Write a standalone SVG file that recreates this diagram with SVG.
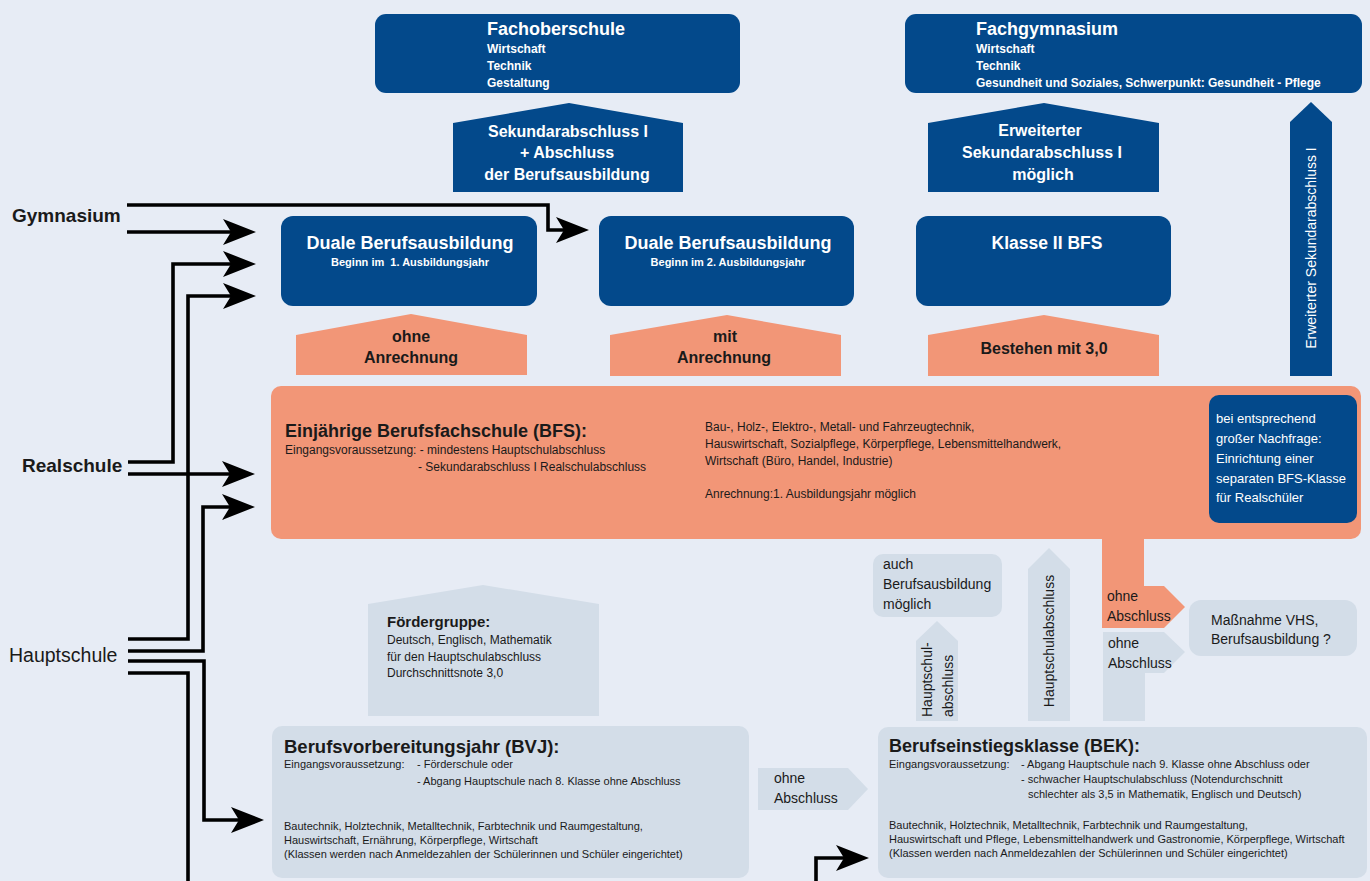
<svg xmlns="http://www.w3.org/2000/svg" width="1370" height="881" viewBox="0 0 1370 881">
<defs>
<style>
.t{font-family:"Liberation Sans",Arial,sans-serif}
.b{font-weight:bold}
.w{fill:#ffffff}
.k{fill:#1a1a1a}
.blue{fill:#03498b}
.sal{fill:#f29677}
.gray{fill:#d3dde8}
.c{text-anchor:middle}
.con{fill:none;stroke:#000;stroke-width:3.6;stroke-linejoin:miter}
</style>
<marker id="ah" markerUnits="userSpaceOnUse" markerWidth="34" markerHeight="27" viewBox="0 0 34 27" refX="8" refY="13" orient="auto">
<path d="M0,0 L33,13 L0,26 L8,13 Z" fill="#000"/>
</marker>
</defs>
<rect x="0" y="0" width="1370" height="881" fill="#e7ecf5"/>

<g id="fachoberschule">
<rect class="blue" x="375" y="14" width="365" height="79" rx="11"/>
<text class="t b w" x="487" y="35" font-size="18">Fachoberschule</text>
<text class="t b w" x="487" y="53" font-size="12">Wirtschaft</text>
<text class="t b w" x="487" y="70" font-size="12">Technik</text>
<text class="t b w" x="487" y="87" font-size="12">Gestaltung</text>
</g>

<g id="sekundar-abschluss">
<polygon class="blue" points="453,192 453,123 569,103 683,123 683,192"/>
<text class="t b w c" x="568" y="137" font-size="16">Sekundarabschluss I</text>
<text class="t b w c" x="567" y="158" font-size="16">+ Abschluss</text>
<text class="t b w c" x="567" y="180" font-size="16">der Berufsausbildung</text>
</g>

<g id="fachgymnasium">
<rect class="blue" x="905" y="14" width="457" height="79" rx="11"/>
<text class="t b w" x="976" y="35" font-size="18">Fachgymnasium</text>
<text class="t b w" x="976" y="53" font-size="12">Wirtschaft</text>
<text class="t b w" x="976" y="70" font-size="12">Technik</text>
<text class="t b w" x="976" y="87" font-size="12">Gesundheit und Soziales, Schwerpunkt: Gesundheit - Pflege</text>
</g>

<g id="erweiterter">
<polygon class="blue" points="928,192 928,123 1044,103 1159,123 1159,192"/>
<text class="t b w c" x="1040" y="136" font-size="16">Erweiterter</text>
<text class="t b w c" x="1042" y="158" font-size="16">Sekundarabschluss I</text>
<text class="t b w c" x="1043" y="180" font-size="16">möglich</text>
</g>

<g id="erweiterter-vertikal">
<polygon class="blue" points="1290,376 1290,122 1311,102 1332,122 1332,376"/>
<text class="t w c" x="1316" y="248" font-size="14" transform="rotate(-90 1316 248)">Erweiterter Sekundarabschluss I</text>
</g>

<g id="duale1">
<rect class="blue" x="281" y="216" width="256" height="90" rx="12"/>
<text class="t b w c" x="410" y="249" font-size="18">Duale Berufsausbildung</text>
<text class="t b w c" x="410" y="266" font-size="11" xml:space="preserve">Beginn im  1. Ausbildungsjahr</text>
</g>

<g id="duale2">
<rect class="blue" x="599" y="216" width="255" height="90" rx="12"/>
<text class="t b w c" x="728" y="249" font-size="18">Duale Berufsausbildung</text>
<text class="t b w c" x="728" y="266" font-size="11">Beginn im 2. Ausbildungsjahr</text>
</g>

<g id="klasse2">
<rect class="blue" x="916" y="216" width="255" height="90" rx="12"/>
<text class="t b w c" x="1047" y="249" font-size="17.5">Klasse II BFS</text>
</g>

<g id="ohne-anrechnung">
<polygon class="sal" points="296,375 296,335 411,314 527,335 527,375"/>
<text class="t b k c" x="411" y="342" font-size="16">ohne</text>
<text class="t b k c" x="411" y="363" font-size="16">Anrechnung</text>
</g>

<g id="mit-anrechnung">
<polygon class="sal" points="610,376 610,335 727,315 841,335 841,376"/>
<text class="t b k c" x="725" y="342" font-size="16">mit</text>
<text class="t b k c" x="724" y="363" font-size="16">Anrechnung</text>
</g>

<g id="bestehen">
<polygon class="sal" points="928,376 928,335 1044,315 1159,335 1159,376"/>
<text class="t b k c" x="1044" y="354" font-size="16">Bestehen mit 3,0</text>
</g>

<g id="bfs">
<rect class="sal" x="271" y="386" width="1090" height="153" rx="10"/>
<text class="t b k" x="285" y="437" font-size="18">Einjährige Berufsfachschule (BFS):</text>
<text class="t k" x="285" y="454" font-size="12">Eingangsvoraussetzung: - mindestens Hauptschulabschluss</text>
<text class="t k" x="418" y="471" font-size="12">- Sekundarabschluss I Realschulabschluss</text>
<text class="t k" x="705" y="431" font-size="12">Bau-, Holz-, Elektro-, Metall- und Fahrzeugtechnik,</text>
<text class="t k" x="705" y="448" font-size="12">Hauswirtschaft, Sozialpflege, Körperpflege, Lebensmittelhandwerk,</text>
<text class="t k" x="705" y="465" font-size="12">Wirtschaft (Büro, Handel, Industrie)</text>
<text class="t k" x="705" y="498" font-size="12">Anrechnung:1. Ausbildungsjahr möglich</text>
</g>

<g id="bfs-realschueler">
<rect class="blue" x="1209" y="395" width="148" height="128" rx="10"/>
<text class="t w" x="1216" y="423" font-size="13">bei entsprechend</text>
<text class="t w" x="1216" y="443" font-size="13">großer Nachfrage:</text>
<text class="t w" x="1216" y="463" font-size="13">Einrichtung einer</text>
<text class="t w" x="1216" y="483" font-size="13">separaten BFS-Klasse</text>
<text class="t w" x="1216" y="502" font-size="13">für Realschüler</text>
</g>

<g id="auch-berufsausbildung">
<rect class="gray" x="873" y="554" width="129" height="63" rx="10"/>
<text class="t k" x="883" y="569" font-size="14">auch</text>
<text class="t k" x="883" y="589" font-size="14">Berufsausbildung</text>
<text class="t k" x="883" y="609" font-size="14">möglich</text>
</g>

<g id="hauptschul-abschluss-klein">
<polygon class="gray" points="916,721 916,641 937,621 958,641 958,721"/>
<text class="t k" x="932" y="717" font-size="14" transform="rotate(-90 932 717)">Hauptschul-</text>
<text class="t k" x="953" y="717" font-size="14" transform="rotate(-90 953 717)">abschluss</text>
</g>

<g id="hauptschulabschluss">
<polygon class="gray" points="1028,721 1028,569 1049,548 1070,569 1070,721"/>
<text class="t k c" x="1054" y="641" font-size="14" transform="rotate(-90 1054 641)">Hauptschulabschluss</text>
</g>

<g id="ohne-abschluss-bfs">
<polygon class="sal" points="1102,539 1144,539 1144,586 1164,586 1185,607 1164,628 1102,628"/>
<text class="t k" x="1107" y="601" font-size="14">ohne</text>
<text class="t k" x="1107" y="621" font-size="14">Abschluss</text>
</g>

<g id="ohne-abschluss-bek">
<polygon class="gray" points="1103,632 1164,632 1185,652 1164,673 1145,673 1145,721 1103,721"/>
<text class="t k" x="1108" y="648" font-size="14">ohne</text>
<text class="t k" x="1108" y="668" font-size="14">Abschluss</text>
</g>

<g id="massnahme">
<rect class="gray" x="1189" y="600" width="168" height="56" rx="12"/>
<text class="t k" x="1211" y="625" font-size="14">Maßnahme VHS,</text>
<text class="t k" x="1211" y="644" font-size="14">Berufsausbildung ?</text>
</g>

<g id="foerdergruppe">
<polygon class="gray" points="368,716 368,604 483,585 599,604 599,716"/>
<text class="t b k" x="387" y="627" font-size="15">Fördergruppe:</text>
<text class="t k" x="387" y="644" font-size="12">Deutsch, Englisch, Mathematik</text>
<text class="t k" x="387" y="661" font-size="12">für den Hauptschulabschluss</text>
<text class="t k" x="387" y="677" font-size="12">Durchschnittsnote 3,0</text>
</g>

<g id="bvj">
<rect class="gray" x="272" y="726" width="477" height="152" rx="10"/>
<text class="t b k" x="284" y="753" font-size="18.5">Berufsvorbereitungsjahr (BVJ):</text>
<text class="t k" x="284" y="768" font-size="11">Eingangsvoraussetzung:</text>
<text class="t k" x="417" y="768" font-size="11">- Förderschule oder</text>
<text class="t k" x="417" y="785" font-size="11">- Abgang Hauptschule nach 8. Klasse ohne Abschluss</text>
<text class="t k" x="284" y="830" font-size="11">Bautechnik, Holztechnik, Metalltechnik, Farbtechnik und Raumgestaltung,</text>
<text class="t k" x="284" y="844" font-size="11">Hauswirtschaft, Ernährung, Körperpflege, Wirtschaft</text>
<text class="t k" x="284" y="858" font-size="11">(Klassen werden nach Anmeldezahlen der Schülerinnen und Schüler eingerichtet)</text>
</g>

<g id="ohne-abschluss-bvj">
<polygon class="gray" points="758,768 848,768 868,789 848,810 758,810"/>
<text class="t k" x="774" y="783" font-size="14">ohne</text>
<text class="t k" x="774" y="803" font-size="14">Abschluss</text>
</g>

<g id="bek">
<rect class="gray" x="878" y="727" width="489" height="151" rx="10"/>
<text class="t b k" x="889" y="752" font-size="18">Berufseinstiegsklasse (BEK):</text>
<text class="t k" x="889" y="768" font-size="11">Eingangsvoraussetzung:</text>
<text class="t k" x="1021" y="768" font-size="11">- Abgang Hauptschule nach 9. Klasse ohne Abschluss oder</text>
<text class="t k" x="1021" y="783" font-size="11">- schwacher Hauptschulabschluss (Notendurchschnitt</text>
<text class="t k" x="1028" y="798" font-size="11">schlechter als 3,5 in Mathematik, Englisch und Deutsch)</text>
<text class="t k" x="889" y="829" font-size="11">Bautechnik, Holztechnik, Metalltechnik, Farbtechnik und Raumgestaltung,</text>
<text class="t k" x="889" y="843" font-size="11">Hauswirtschaft und Pflege, Lebensmittelhandwerk und Gastronomie, Körperpflege, Wirtschaft</text>
<text class="t k" x="889" y="857" font-size="11">(Klassen werden nach Anmeldezahlen der Schülerinnen und Schüler eingerichtet)</text>
</g>

<g id="gymnasium">
<text class="t b k" x="12" y="222" font-size="19">Gymnasium</text>
</g>
<g id="realschule">
<text class="t b k" x="22" y="472" font-size="19">Realschule</text>
</g>
<g id="hauptschule">
<text class="t k" x="9" y="662" font-size="19.5">Hauptschule</text>
</g>

<g id="connectors">
<path class="con" d="M127,205 H548 V230 H564" marker-end="url(#ah)"/>
<path class="con" d="M127,232 H231" marker-end="url(#ah)"/>
<path class="con" d="M128,462 H173 V264 H231" marker-end="url(#ah)"/>
<path class="con" d="M128,639 H188 V296 H231" marker-end="url(#ah)"/>
<path class="con" d="M128,474 H230" marker-end="url(#ah)"/>
<path class="con" d="M128,651 H203 V507 H230" marker-end="url(#ah)"/>
<path class="con" d="M128,661 H204 V820 H239" marker-end="url(#ah)"/>
<path class="con" d="M128,673 H188 V883"/>
<path class="con" d="M816,883 V858 H844" marker-end="url(#ah)"/>
</g>
</svg>
